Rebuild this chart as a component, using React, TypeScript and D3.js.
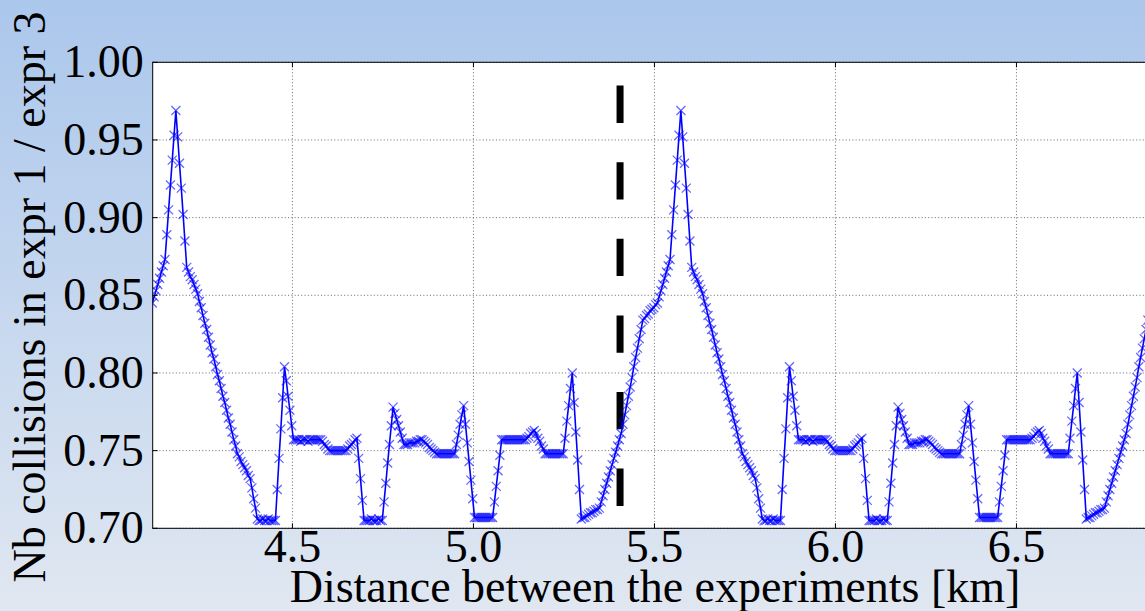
import * as d3 from "d3";

// samples: distance [km] and collision ratio
const distFirst = [
  4.113, 4.118, 4.123, 4.128, 4.133, 4.138, 4.143, 4.148, 4.153, 4.158,
  4.163, 4.168, 4.173, 4.178, 4.183, 4.188, 4.193, 4.198, 4.203, 4.208,
  4.213, 4.218, 4.223, 4.228, 4.233, 4.238, 4.243, 4.248, 4.253, 4.258,
  4.263, 4.268, 4.273, 4.278, 4.283, 4.288, 4.293, 4.298, 4.303, 4.308,
  4.313, 4.318, 4.323, 4.328, 4.333, 4.338, 4.343, 4.348, 4.353, 4.358,
  4.363, 4.368, 4.373, 4.378, 4.383, 4.388, 4.393, 4.398, 4.403, 4.408,
  4.413, 4.418, 4.423, 4.428, 4.433, 4.438, 4.443, 4.448, 4.453, 4.458,
  4.463, 4.468, 4.473, 4.478, 4.483, 4.488, 4.493, 4.498, 4.503, 4.508,
  4.513, 4.518, 4.523, 4.528, 4.533, 4.538, 4.543, 4.548, 4.553, 4.558,
  4.563, 4.568, 4.573, 4.578, 4.583, 4.588, 4.593, 4.598, 4.603, 4.608,
  4.613, 4.618, 4.623, 4.628, 4.633, 4.638, 4.643, 4.648, 4.653, 4.658,
  4.663, 4.668, 4.673, 4.678, 4.683, 4.688, 4.693, 4.698, 4.703, 4.708,
  4.713, 4.718, 4.723, 4.728, 4.733, 4.738, 4.743, 4.748, 4.753, 4.758,
  4.763, 4.768, 4.773, 4.778, 4.783, 4.788, 4.793, 4.798, 4.803, 4.808,
  4.813, 4.818, 4.823, 4.828, 4.833, 4.838, 4.843, 4.848, 4.853, 4.858,
  4.863, 4.868, 4.873, 4.878, 4.883, 4.888, 4.893, 4.898, 4.903, 4.908,
  4.913, 4.918, 4.923, 4.928, 4.933, 4.938, 4.943, 4.948, 4.953, 4.958,
  4.963, 4.968, 4.973, 4.978, 4.983, 4.988, 4.993, 4.998, 5.003, 5.008,
  5.013, 5.018, 5.023, 5.028, 5.033, 5.038, 5.043, 5.048, 5.053, 5.058,
  5.063, 5.068, 5.073, 5.078, 5.083, 5.088, 5.093, 5.098, 5.103, 5.108,
  5.113, 5.118, 5.123, 5.128, 5.133, 5.138, 5.143, 5.148, 5.153, 5.158,
  5.163, 5.168, 5.173, 5.178, 5.183, 5.188, 5.193, 5.198, 5.203, 5.208,
  5.213, 5.218, 5.223, 5.228, 5.233, 5.238, 5.243, 5.248, 5.253, 5.258,
  5.263, 5.268, 5.273, 5.278, 5.283, 5.288, 5.293, 5.298, 5.303, 5.308,
  5.313, 5.318, 5.323, 5.328, 5.333, 5.338, 5.343, 5.348, 5.353, 5.358,
  5.363, 5.368, 5.373, 5.378, 5.383, 5.388, 5.393, 5.398, 5.403, 5.408,
  5.413, 5.418, 5.423, 5.428, 5.433, 5.438, 5.443, 5.448, 5.453, 5.458,
  5.463, 5.468, 5.473, 5.478, 5.483, 5.488, 5.493, 5.498, 5.503,
];

const ratioFirst = [
  0.845, 0.849, 0.853, 0.857, 0.861, 0.865, 0.869, 0.873, 0.889, 0.905,
  0.921, 0.937, 0.953, 0.969, 0.952, 0.935, 0.919, 0.902, 0.885, 0.868,
  0.865, 0.862, 0.860, 0.857, 0.854, 0.851, 0.846, 0.842, 0.837, 0.832,
  0.828, 0.823, 0.818, 0.813, 0.809, 0.804, 0.799, 0.795, 0.790, 0.785,
  0.781, 0.776, 0.771, 0.767, 0.762, 0.757, 0.753, 0.748, 0.746, 0.743,
  0.741, 0.739, 0.737, 0.734, 0.732, 0.726, 0.719, 0.713, 0.706, 0.705,
  0.705, 0.706, 0.705, 0.705, 0.706, 0.705, 0.705, 0.705, 0.705, 0.725,
  0.745, 0.764, 0.784, 0.804, 0.795, 0.785, 0.776, 0.766, 0.757, 0.757,
  0.757, 0.757, 0.756, 0.757, 0.757, 0.757, 0.756, 0.757, 0.757, 0.757,
  0.757, 0.757, 0.757, 0.757, 0.756, 0.754, 0.753, 0.751, 0.750, 0.750,
  0.750, 0.750, 0.750, 0.750, 0.750, 0.750, 0.750, 0.750, 0.751, 0.753,
  0.754, 0.755, 0.757, 0.758, 0.745, 0.732, 0.718, 0.705, 0.705, 0.705,
  0.705, 0.706, 0.705, 0.705, 0.705, 0.706, 0.705, 0.705, 0.717, 0.729,
  0.742, 0.754, 0.766, 0.778, 0.774, 0.770, 0.766, 0.762, 0.758, 0.754,
  0.754, 0.754, 0.755, 0.755, 0.755, 0.755, 0.756, 0.756, 0.757, 0.757,
  0.756, 0.755, 0.754, 0.752, 0.751, 0.750, 0.749, 0.748, 0.748, 0.748,
  0.748, 0.748, 0.748, 0.748, 0.748, 0.748, 0.748, 0.748, 0.754, 0.760,
  0.767, 0.773, 0.779, 0.767, 0.755, 0.743, 0.731, 0.719, 0.707, 0.707,
  0.707, 0.707, 0.707, 0.707, 0.707, 0.707, 0.707, 0.707, 0.707, 0.717,
  0.727, 0.737, 0.747, 0.757, 0.757, 0.757, 0.757, 0.757, 0.757, 0.757,
  0.757, 0.757, 0.757, 0.757, 0.757, 0.757, 0.757, 0.758, 0.759, 0.761,
  0.762, 0.763, 0.761, 0.758, 0.756, 0.753, 0.751, 0.748, 0.748, 0.748,
  0.748, 0.748, 0.748, 0.748, 0.748, 0.748, 0.748, 0.748, 0.758, 0.769,
  0.779, 0.790, 0.800, 0.781, 0.762, 0.744, 0.725, 0.706, 0.707, 0.707,
  0.708, 0.709, 0.710, 0.710, 0.711, 0.712, 0.712, 0.713, 0.717, 0.721,
  0.725, 0.729, 0.733, 0.737, 0.741, 0.745, 0.749, 0.753, 0.757, 0.761,
  0.767, 0.773, 0.779, 0.785, 0.791, 0.797, 0.804, 0.810, 0.816, 0.822,
  0.828, 0.834, 0.835, 0.837, 0.838, 0.840, 0.841, 0.842, 0.844,
];

const distSecond = [
  5.508, 5.513, 5.518, 5.523, 5.528, 5.533, 5.538, 5.543, 5.548, 5.553,
  5.558, 5.563, 5.568, 5.573, 5.578, 5.583, 5.588, 5.593, 5.598, 5.603,
  5.608, 5.613, 5.618, 5.623, 5.628, 5.633, 5.638, 5.643, 5.648, 5.653,
  5.658, 5.663, 5.668, 5.673, 5.678, 5.683, 5.688, 5.693, 5.698, 5.703,
  5.708, 5.713, 5.718, 5.723, 5.728, 5.733, 5.738, 5.743, 5.748, 5.753,
  5.758, 5.763, 5.768, 5.773, 5.778, 5.783, 5.788, 5.793, 5.798, 5.803,
  5.808, 5.813, 5.818, 5.823, 5.828, 5.833, 5.838, 5.843, 5.848, 5.853,
  5.858, 5.863, 5.868, 5.873, 5.878, 5.883, 5.888, 5.893, 5.898, 5.903,
  5.908, 5.913, 5.918, 5.923, 5.928, 5.933, 5.938, 5.943, 5.948, 5.953,
  5.958, 5.963, 5.968, 5.973, 5.978, 5.983, 5.988, 5.993, 5.998, 6.003,
  6.008, 6.013, 6.018, 6.023, 6.028, 6.033, 6.038, 6.043, 6.048, 6.053,
  6.058, 6.063, 6.068, 6.073, 6.078, 6.083, 6.088, 6.093, 6.098, 6.103,
  6.108, 6.113, 6.118, 6.123, 6.128, 6.133, 6.138, 6.143, 6.148, 6.153,
  6.158, 6.163, 6.168, 6.173, 6.178, 6.183, 6.188, 6.193, 6.198, 6.203,
  6.208, 6.213, 6.218, 6.223, 6.228, 6.233, 6.238, 6.243, 6.248, 6.253,
  6.258, 6.263, 6.268, 6.273, 6.278, 6.283, 6.288, 6.293, 6.298, 6.303,
  6.308, 6.313, 6.318, 6.323, 6.328, 6.333, 6.338, 6.343, 6.348, 6.353,
  6.358, 6.363, 6.368, 6.373, 6.378, 6.383, 6.388, 6.393, 6.398, 6.403,
  6.408, 6.413, 6.418, 6.423, 6.428, 6.433, 6.438, 6.443, 6.448, 6.453,
  6.458, 6.463, 6.468, 6.473, 6.478, 6.483, 6.488, 6.493, 6.498, 6.503,
  6.508, 6.513, 6.518, 6.523, 6.528, 6.533, 6.538, 6.543, 6.548, 6.553,
  6.558, 6.563, 6.568, 6.573, 6.578, 6.583, 6.588, 6.593, 6.598, 6.603,
  6.608, 6.613, 6.618, 6.623, 6.628, 6.633, 6.638, 6.643, 6.648, 6.653,
  6.658, 6.663, 6.668, 6.673, 6.678, 6.683, 6.688, 6.693, 6.698, 6.703,
  6.708, 6.713, 6.718, 6.723, 6.728, 6.733, 6.738, 6.743, 6.748, 6.753,
  6.758, 6.763, 6.768, 6.773, 6.778, 6.783, 6.788, 6.793, 6.798, 6.803,
  6.808, 6.813, 6.818, 6.823, 6.828, 6.833, 6.838, 6.843, 6.848, 6.853,
  6.858, 6.863,
];

const ratioSecond = [
  0.845, 0.849, 0.853, 0.857, 0.861, 0.865, 0.869, 0.873, 0.889, 0.905,
  0.921, 0.937, 0.953, 0.969, 0.952, 0.935, 0.919, 0.902, 0.885, 0.868,
  0.865, 0.862, 0.860, 0.857, 0.854, 0.851, 0.846, 0.842, 0.837, 0.832,
  0.828, 0.823, 0.818, 0.813, 0.809, 0.804, 0.799, 0.795, 0.790, 0.785,
  0.781, 0.776, 0.771, 0.767, 0.762, 0.757, 0.753, 0.748, 0.746, 0.743,
  0.741, 0.739, 0.737, 0.734, 0.732, 0.726, 0.719, 0.713, 0.706, 0.705,
  0.705, 0.706, 0.705, 0.705, 0.706, 0.705, 0.705, 0.705, 0.705, 0.725,
  0.745, 0.764, 0.784, 0.804, 0.795, 0.785, 0.776, 0.766, 0.757, 0.757,
  0.757, 0.757, 0.756, 0.757, 0.757, 0.757, 0.756, 0.757, 0.757, 0.757,
  0.757, 0.757, 0.757, 0.757, 0.756, 0.754, 0.753, 0.751, 0.750, 0.750,
  0.750, 0.750, 0.750, 0.750, 0.750, 0.750, 0.750, 0.750, 0.751, 0.753,
  0.754, 0.755, 0.757, 0.758, 0.745, 0.732, 0.718, 0.705, 0.705, 0.705,
  0.705, 0.706, 0.705, 0.705, 0.705, 0.706, 0.705, 0.705, 0.717, 0.729,
  0.742, 0.754, 0.766, 0.778, 0.774, 0.770, 0.766, 0.762, 0.758, 0.754,
  0.754, 0.754, 0.755, 0.755, 0.755, 0.755, 0.756, 0.756, 0.757, 0.757,
  0.756, 0.755, 0.754, 0.752, 0.751, 0.750, 0.749, 0.748, 0.748, 0.748,
  0.748, 0.748, 0.748, 0.748, 0.748, 0.748, 0.748, 0.748, 0.754, 0.760,
  0.767, 0.773, 0.779, 0.767, 0.755, 0.743, 0.731, 0.719, 0.707, 0.707,
  0.707, 0.707, 0.707, 0.707, 0.707, 0.707, 0.707, 0.707, 0.707, 0.717,
  0.727, 0.737, 0.747, 0.757, 0.757, 0.757, 0.757, 0.757, 0.757, 0.757,
  0.757, 0.757, 0.757, 0.757, 0.757, 0.757, 0.757, 0.758, 0.759, 0.761,
  0.762, 0.763, 0.761, 0.758, 0.756, 0.753, 0.751, 0.748, 0.748, 0.748,
  0.748, 0.748, 0.748, 0.748, 0.748, 0.748, 0.748, 0.748, 0.758, 0.769,
  0.779, 0.790, 0.800, 0.781, 0.762, 0.744, 0.725, 0.706, 0.707, 0.707,
  0.708, 0.709, 0.710, 0.710, 0.711, 0.712, 0.712, 0.713, 0.717, 0.721,
  0.725, 0.729, 0.733, 0.737, 0.741, 0.745, 0.749, 0.753, 0.757, 0.761,
  0.767, 0.773, 0.779, 0.785, 0.791, 0.797, 0.804, 0.810, 0.816, 0.822,
  0.828, 0.834,
];

const xTicks = [4.5, 5.0, 5.5, 6.0, 6.5];
const yTicks = [0.7, 0.75, 0.8, 0.85, 0.9, 0.95, 1.0];
const xDomain = [4.114, 6.87];
const yDomain = [0.7, 1.0];

// vertical reference line (distance, ratio span)
const refDistance = 5.405;
const refSpan = [0.7135, 0.985];

const xLabel = "Distance between the experiments [km]";
const yLabel = "Nb collisions in expr 1 / expr 3";

const W = 1145;
const H = 611;
const box = { left: 152.7, top: 62.3, right: 1150.4, bottom: 528.3 };
const font = "'Liberation Serif', 'Times New Roman', serif";

type Pt = [number, number];

export default function App() {
  const x = d3.scaleLinear().domain(xDomain).range([box.left, box.right]);
  const y = d3.scaleLinear().domain(yDomain).range([box.bottom, box.top]);

  const points: Pt[] = [
    ...distFirst.map((d, i) => [d, ratioFirst[i]] as Pt),
    ...distSecond.map((d, i) => [d, ratioSecond[i]] as Pt),
  ];

  const linePath =
    d3
      .line<Pt>()
      .x((d) => x(d[0]))
      .y((d) => y(d[1]))(points) ?? "";

  const m = 4.5;
  const tick = 5;

  return (
    <svg
      width={W}
      height={H}
      style={{ position: "absolute", left: 0, top: 0, display: "block" }}
    >
      <defs>
        <linearGradient id="bg" x1="0" y1="0" x2="0" y2="1">
          <stop offset="0" stopColor="#abc7ec" />
          <stop offset="1" stopColor="#e0e7f1" />
        </linearGradient>
        <clipPath id="plotClip">
          <rect
            x={box.left}
            y={box.top}
            width={box.right - box.left}
            height={box.bottom - box.top}
          />
        </clipPath>
      </defs>

      <rect width={W} height={H} fill="url(#bg)" />
      <rect
        x={box.left}
        y={box.top}
        width={box.right - box.left}
        height={box.bottom - box.top}
        fill="#fff"
      />

      {/* dotted grid */}
      <g stroke="#666" strokeWidth={0.9} strokeDasharray="1.1 2.2">
        {xTicks.map((t) => (
          <line key={`gx${t}`} x1={x(t)} x2={x(t)} y1={box.top} y2={box.bottom} />
        ))}
        {yTicks.map((t) => (
          <line key={`gy${t}`} x1={box.left} x2={box.right} y1={y(t)} y2={y(t)} />
        ))}
      </g>

      <line
        x1={x(refDistance)}
        x2={x(refDistance)}
        y1={y(refSpan[1])}
        y2={y(refSpan[0])}
        stroke="#000"
        strokeWidth={7}
        strokeDasharray="37.3 39.3"
      />

      <g clipPath="url(#plotClip)">
        <path d={linePath} fill="none" stroke="#0000ff" strokeWidth={1.6} />
        <g stroke="#0000ff" strokeOpacity={0.6} strokeWidth={1.3}>
          {points.map((p, i) => {
            const px = x(p[0]);
            const py = y(p[1]);
            return (
              <path
                key={i}
                d={`M${px - m},${py - m}L${px + m},${py + m}M${px - m},${py + m}L${px + m},${py - m}`}
              />
            );
          })}
        </g>
      </g>

      {/* frame and ticks */}
      <rect
        x={box.left}
        y={box.top}
        width={box.right - box.left}
        height={box.bottom - box.top}
        fill="none"
        stroke="#000"
        strokeWidth={1}
      />
      <g stroke="#000" strokeWidth={1}>
        {xTicks.map((t) => (
          <g key={`tx${t}`}>
            <line x1={x(t)} x2={x(t)} y1={box.bottom} y2={box.bottom - tick} />
            <line x1={x(t)} x2={x(t)} y1={box.top} y2={box.top + tick} />
          </g>
        ))}
        {yTicks.map((t) => (
          <line key={`ty${t}`} x1={box.left} x2={box.left + tick} y1={y(t)} y2={y(t)} />
        ))}
      </g>

      <g fontFamily={font} fontSize={46} fill="#000">
        {yTicks.map((t) => (
          <text key={`ly${t}`} x={box.left - 9} y={y(t) + 15} textAnchor="end">
            {d3.format(".2f")(t)}
          </text>
        ))}
        {xTicks.map((t) => (
          <text key={`lx${t}`} x={x(t)} y={562} textAnchor="middle">
            {d3.format(".1f")(t)}
          </text>
        ))}
        <text x={655} y={602} textAnchor="middle">
          {xLabel}
        </text>
        <text transform="translate(45,297) rotate(-90)" textAnchor="middle">
          {yLabel}
        </text>
      </g>
    </svg>
  );
}
